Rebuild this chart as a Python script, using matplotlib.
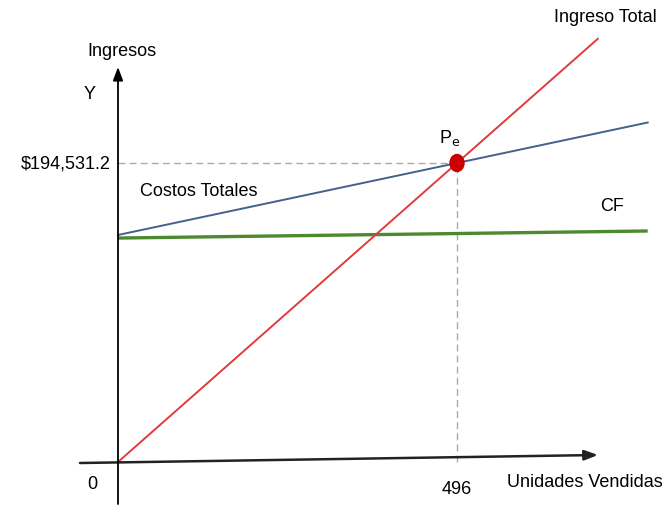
import matplotlib

matplotlib.use("Agg")
import matplotlib.pyplot as plt
from matplotlib.patches import Ellipse

plt.rcParams["font.family"] = ["Liberation Sans", "DejaVu Sans"]

# punto de equilibrio
unidades_pe = 496
ingreso_pe = 194531.2

# rectas (unidades -> pesos)
x_ingreso = [0, 702]
x_costos = [0, 775]
costo_fijo_ct = 147700          # ordenada al origen de costos totales
cf_y = [145700, 150300]         # linea de costo fijo, tal como esta trazada

precio = ingreso_pe / unidades_pe
cvu = (ingreso_pe - costo_fijo_ct) / unidades_pe

# escala: pixeles por unidad / por peso
px_x = 339 / unidades_pe
px_y = 299 / ingreso_pe
x0_px, y0_px = 118, 463
W, H = 666, 506

fig = plt.figure(figsize=(W / 100, H / 100), dpi=100)
ax = fig.add_axes([0, 0, 1, 1])
ax.set_xlim(-x0_px / px_x, (W - x0_px) / px_x)
ax.set_ylim(-(H - y0_px) / px_y, y0_px / px_y)
ax.axis("off")

def ux(px):
    return px / px_x

def uy(px):
    return px / px_y

# ejes
ax.annotate("", xy=(ux(480), uy(7)), xytext=(ux(-38), uy(-1)),
            arrowprops=dict(arrowstyle="-|>,head_length=0.8,head_width=0.3",
                            color="#222222", lw=1.8, shrinkA=0, shrinkB=0))
ax.annotate("", xy=(0, uy(395)), xytext=(0, uy(-42)),
            arrowprops=dict(arrowstyle="-|>,head_length=0.8,head_width=0.3",
                            color="black", lw=1.3, shrinkA=0, shrinkB=0))

# guias punteadas al punto de equilibrio
ax.plot([0, unidades_pe], [ingreso_pe, ingreso_pe], ls=(0, (5, 3)), color="#aaaaaa", lw=1)
ax.plot([unidades_pe, unidades_pe], [0, ingreso_pe], ls=(0, (5, 3)), color="#aaaaaa", lw=1)

# costo fijo, costos totales, ingreso total
ax.plot(x_costos, cf_y, color="#4d8a2f", lw=2.4, solid_capstyle="butt")
ax.plot(x_costos, [costo_fijo_ct + cvu * x for x in x_costos], color="#44608f", lw=1.4)
ax.plot(x_ingreso, [precio * x for x in x_ingreso], color="#e23b3b", lw=1.4)

ax.add_patch(Ellipse((unidades_pe, ingreso_pe), width=ux(14), height=uy(17),
                     color="#cc0000", zorder=5))

fs = 13
ax.text(ux(4), y0_px / px_y - uy(52), "Ingresos", fontsize=fs, ha="center", va="center")
ax.text(ux(-28), y0_px / px_y - uy(95), "Y", fontsize=fs, ha="center", va="center")
ax.text(ux(-7), ingreso_pe, "$194,531.2", fontsize=fs, ha="right", va="center")
ax.text(ux(22), uy(463 - 192), "Costos Totales", fontsize=fs, ha="left", va="center")
ax.text(ux(539), uy(463 - 18), "Ingreso Total", fontsize=fs, ha="right", va="center")
ax.text(ux(494), uy(463 - 207), "CF", fontsize=fs, ha="center", va="center")
ax.text(unidades_pe - ux(7), ingreso_pe + uy(26), r"P$_{\mathrm{e}}$", fontsize=fs,
        ha="center", va="center")
ax.text(ux(-26), uy(-22), "0", fontsize=fs, ha="center", va="center")
ax.text(unidades_pe, uy(-27), "496", fontsize=fs, ha="center", va="center")
ax.text(ux(545), uy(-20), "Unidades Vendidas", fontsize=fs, ha="right", va="center")

fig.savefig("out.png", dpi=100)
